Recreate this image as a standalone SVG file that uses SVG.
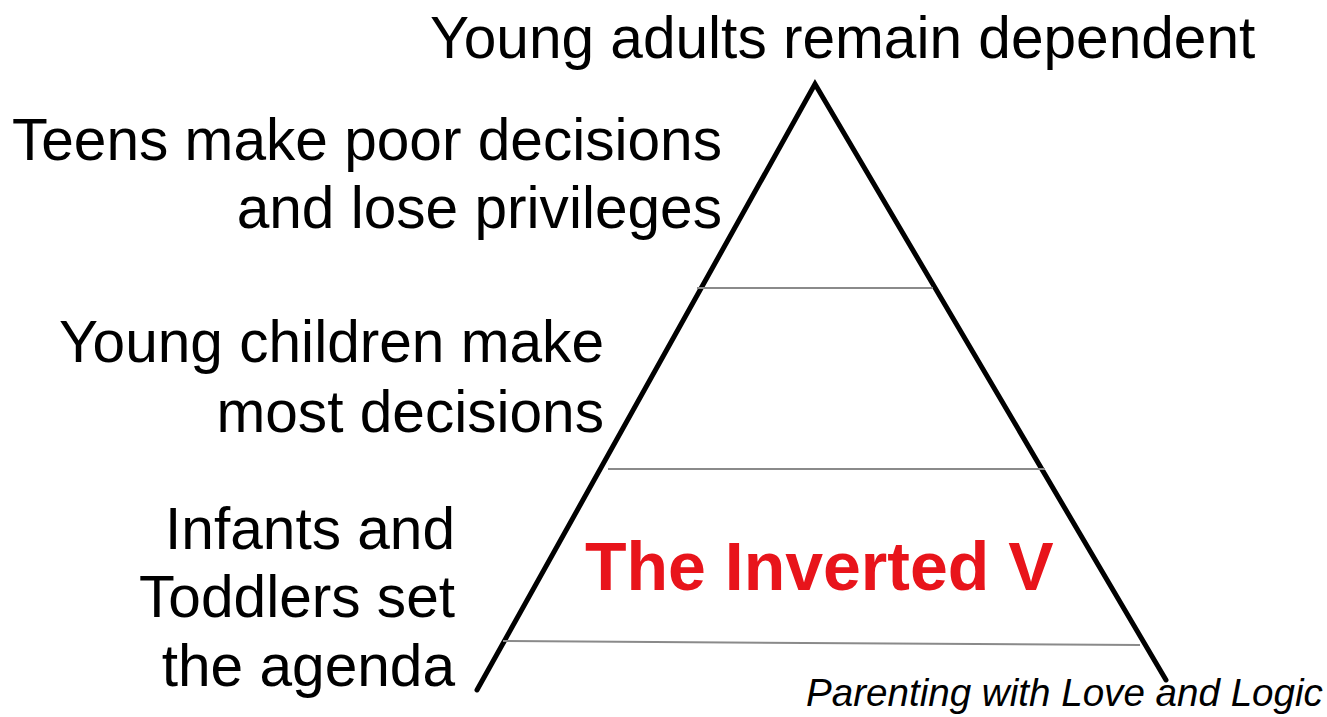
<svg xmlns="http://www.w3.org/2000/svg" width="1327" height="717" viewBox="0 0 1327 717">
<style>
.lbl{font-family:"Liberation Sans",Arial,sans-serif;font-size:58.6px;fill:#000}
.r{text-anchor:end}
.title{font-family:"Liberation Sans",Arial,sans-serif;font-size:68px;font-weight:bold;fill:#e8141b}
.cred{font-family:"Liberation Sans",Arial,sans-serif;font-size:38.6px;font-style:italic;fill:#000}
.leg{stroke:#000;stroke-width:5;fill:none;stroke-linecap:round}
.tier{stroke:#8a8a8a;stroke-width:2}
</style>
<rect width="1327" height="717" fill="#fff"/>
<g id="triangle">
<polyline class="leg" points="477,690 815,84 1166,680"/>
<line class="tier" x1="697" y1="288" x2="933" y2="288"/>
<line class="tier" x1="608" y1="469" x2="1045" y2="469"/>
<line class="tier" x1="503" y1="641" x2="1140" y2="645"/>
</g>
<g id="top-label"><text class="lbl" x="430" y="58">Young adults remain dependent</text></g>
<g id="teens-label"><text class="lbl r" x="722" y="160">Teens make poor decisions</text><text class="lbl r" x="722" y="228">and lose privileges</text></g>
<g id="children-label"><text class="lbl r" x="604" y="362">Young children make</text><text class="lbl r" x="604" y="432">most decisions</text></g>
<g id="infants-label"><text class="lbl r" x="455" y="549">Infants and</text><text class="lbl r" x="455" y="617">Toddlers set</text><text class="lbl r" x="455" y="686">the agenda</text></g>
<g id="title"><text class="title" x="585" y="590">The Inverted V</text></g>
<g id="credit"><text class="cred" x="806" y="706">Parenting with Love and Logic</text></g>
</svg>
